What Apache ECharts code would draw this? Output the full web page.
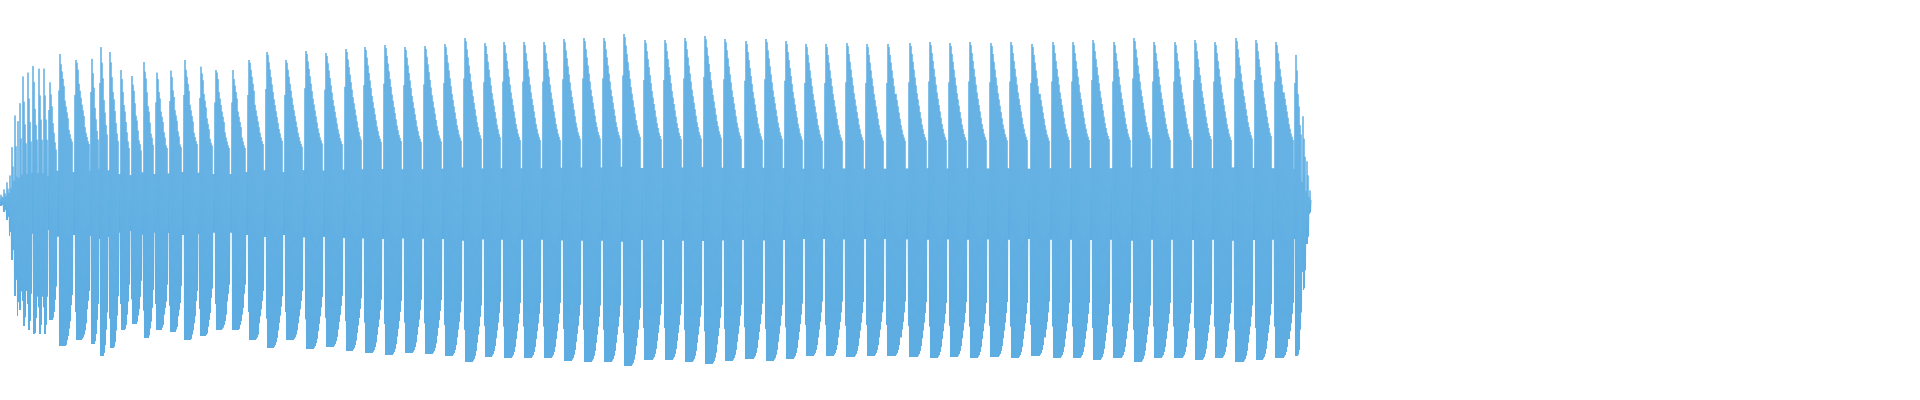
<!DOCTYPE html>
<html><head><meta charset="utf-8">
<script src="https://cdn.jsdelivr.net/npm/echarts@6/dist/echarts.min.js"></script>
<style>html,body{margin:0;padding:0;background:#fff}#c{width:1920px;height:400px}</style>
</head><body><div id="c"></div>
<script>
const cycleStart = [0,3,6,9,11,14,17,19,22,27,32,38,43,48,57,73,90,99,108,119,130,142,154,168,182,198,213,230,246,264,
283,303,323,343,362,382,402,422,442,462,482,501,521,541,561,581,
601,621,641,662,682,702,722,742,763,783,803,823,843,864,884,906,
927,947,967,987,1008,1028,1050,1070,1090,1110,1131,1151,1171,1192,1212,1232,1253,1272,1294,1302,1306,1309];
const signalEnd = 1311;
const cycleAmp = [.03,.06,.1,.18,.3,.48,.58,.55,.63,.65,.67,.67,.67,.6,.73,.70,.72,.78,.74,.65,.62,.69,.65,.66,.70,.68,.65,.65,.7,.74,
.70,.745,.735,.755,.765,.775,.765,.77,.78,.81,.785,.79,.79,.79,.805,.81,
.81,.83,.80,.80,.81,.82,.805,.795,.805,.795,.78,.78,.785,.78,.78,.785,
.79,.785,.79,.785,.79,.78,.79,.79,.8,.79,.81,.79,.79,.8,.79,.81,.8,.79,.78,.45,.22,.07];
const topShape = [0.2,0.2,0.75,1.0,0.98,0.93,0.88,0.83,0.78,0.73,0.68,0.64,0.6,0.56,0.52,0.48,0.45,0.42,0.4,0.38];
const bottomShape = [0.25,0.25,0.8,1,1,1,1,1,1,1,1,0.99,0.98,0.96,0.93,0.88,0.83,0.78,0.72,0.65];

const pts = [];
let flip = 0;
for (let i = 0; i < cycleStart.length; i++) {
  const s = cycleStart[i], e = i + 1 < cycleStart.length ? cycleStart[i+1] : signalEnd;
  const L = e - s;
  for (let x = s; x < e; x += 0.5) {
    const k = Math.min(topShape.length - 1, Math.floor((x - s) / L * topShape.length));
    const v = flip ? -cycleAmp[i] * bottomShape[k] : cycleAmp[i] * topShape[k];
    pts.push([x, v]);
    flip = 1 - flip;
  }
}
pts.push([signalEnd, 0]);

const chart = echarts.init(document.getElementById('c'));
chart.setOption({
  animation: false,
  grid: {left: 0, right: 0, top: 0, bottom: 0},
  xAxis: {type: 'value', min: 0, max: 1920, show: false},
  yAxis: {type: 'value', min: -1, max: 1, show: false},
  series: [{type: 'line', data: pts, showSymbol: false, sampling: null,
    lineStyle: {color: '#5DADE2', width: 1}, itemStyle: {color: '#5DADE2'}}]
});
</script></body></html>
